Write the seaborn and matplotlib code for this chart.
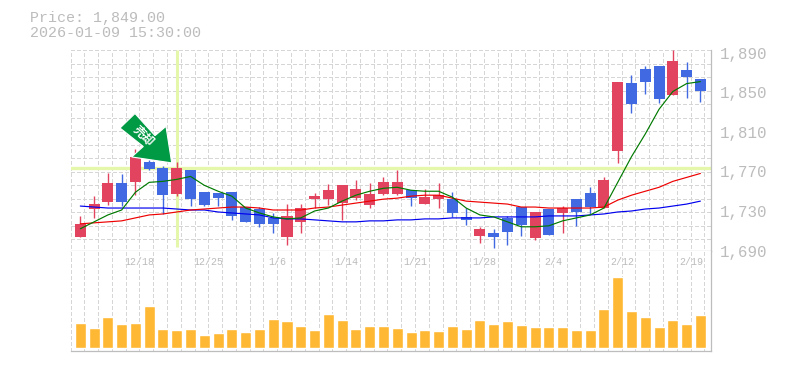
import numpy as np
import pandas as pd
import matplotlib
matplotlib.use("Agg")
import matplotlib.pyplot as plt
from matplotlib.patches import Polygon
import seaborn as sns

highs = [1725,1745,1768,1767,1793,1782,1776,1780,1771,1749,1748,1749,1734,1734,1728,1737,1737,1748,1757,1756,1761,1758,1764,1771,1751,1752,1758,1749,1733,1714,1712,1725,1734,1729,1732,1735,1742,1754,1764,1861,1868,1877,1877,1893,1881,1864]
tops  = [1717,1737,1758,1758,1785,1780,1774,1774,1771,1749,1748,1749,1734,1732,1723,1725,1733,1745,1751,1756,1752,1747,1759,1759,1751,1744,1746,1742,1724,1712,1708,1723,1734,1729,1732,1733,1742,1748,1761,1861,1860,1874,1877,1882,1873,1864]
bots  = [1704,1732,1739,1739,1759,1773,1746,1747,1742,1736,1743,1725,1719,1717,1717,1704,1719,1742,1742,1738,1743,1736,1747,1747,1743,1737,1742,1728,1721,1705,1704,1709,1716,1703,1706,1728,1729,1734,1733,1791,1838,1861,1843,1847,1866,1851]
lows  = [1704,1723,1736,1735,1746,1771,1727,1745,1735,1735,1735,1721,1719,1714,1708,1696,1708,1733,1736,1721,1741,1733,1746,1746,1735,1737,1733,1724,1716,1698,1693,1696,1705,1701,1706,1708,1715,1727,1733,1779,1829,1848,1839,1847,1844,1840]
is_up = [1,1,1,0,1,0,0,1,0,0,0,0,0,0,0,1,1,1,1,1,1,1,1,1,0,1,1,0,0,1,0,0,0,1,0,1,0,0,1,1,0,0,0,1,0,0]
ma_short = [1712,1719,1726,1731,1749,1759,1760,1762,1765,1756,1750,1745,1733,1728,1724,1722,1723,1730,1733,1740,1746,1750,1753,1754,1751,1750,1750,1744,1733,1726,1724,1719,1714,1714,1715,1720,1723,1726,1733,1759,1785,1808,1833,1851,1859,1861]
ma_mid = [1717,1718,1719,1720,1723,1726,1727,1729,1731,1732,1733,1734,1734,1733,1731,1731,1731,1733,1734,1736,1738,1740,1742,1743,1745,1746,1746,1743,1740,1739,1738,1737,1734,1734,1733,1733,1733,1733,1734,1741,1746,1750,1754,1760,1764,1768]
ma_long = [1735,1734,1733,1733,1733,1733,1733,1732,1731,1731,1729,1728,1727,1726,1723,1722,1722,1721,1720,1719,1719,1720,1720,1721,1721,1722,1722,1723,1723,1723,1724,1724,1724,1724,1725,1725,1725,1726,1727,1729,1730,1732,1733,1735,1737,1740]
volumes = [25,20,31,24,25,42,19,18,19,13,15,19,16,19,29,27,22,18,34,28,19,22,22,20,16,18,17,22,19,28,24,27,23,21,21,21,18,18,39,71,37,31,21,28,24,33]
y_ticks = [1690,1730,1770,1810,1850,1890]
x_tick_pos = [4,9,14,19,24,29,34,39,44]
x_tick_labels = ["12/18","12/25","1/6","1/14","1/21","1/28","2/4","2/12","2/19"]
title_lines = ["Price: 1,849.00","2026-01-09 15:30:00"]
arrow_label = "売却"
mark_index = 7
mark_price = 1774

sns.set_theme(style="white")
plt.rcParams["font.family"] = ["Liberation Mono", "DejaVu Sans Mono", "Noto Sans CJK JP"]

W, H = 785, 370
fig = plt.figure(figsize=(W/100, H/100), dpi=100, facecolor="white")
L, R = 70.5, 710.5
def axes_px(top, bottom):
    return fig.add_axes([L/W, 1-bottom/H, (R-L)/W, (bottom-top)/H])
ax = axes_px(50, 250.5)
av = axes_px(250.5, 350.5)

x = np.arange(len(highs))
dx = 13.78
xlim = ((L-80.3)/dx, (R-80.3)/dx)
GRID = "#d6d6d6"; FRAME = "#bdbdbd"; TXT = "#bcbcbc"
RED = "#e2445f"; BLUE = "#4169e1"; HL = "#e4f7ab"

grid_x = np.arange(xlim[0], xlim[1], 1.0)
ax.set_xlim(xlim); ax.set_ylim(1692.5, 1893)
av.set_xlim(xlim); av.set_ylim(-2.3, 98)

grid_kw = dict(color=GRID, lw=0.75, ls=(0, (3, 2)), zorder=1, antialiased=False)
ax.vlines(grid_x, 1692.5, 1893, **grid_kw)
ax.hlines(1893-13.7*np.arange(0, 15), *xlim, **grid_kw)
av.vlines(grid_x, -2.3, 98, **grid_kw)

ax.axhline(mark_price, color=HL, lw=2.4, zorder=2)
ax.vlines(mark_index, 1694, 1893, color=HL, lw=2.2, zorder=2)

df = pd.DataFrame(dict(x=x, high=highs, top=tops, bot=bots, low=lows, up=is_up, s=ma_short, m=ma_mid, l=ma_long, v=volumes))
cols = [RED if u else BLUE for u in df.up]
ax.vlines(df.x, df.low, df.high, colors=cols, lw=1.0, zorder=3)
ax.bar(df.x, df.top-df.bot, bottom=df.bot, width=0.8, color=cols, lw=0, zorder=4)
for col, c in (("l", "#0000ee"), ("m", "#ee0000"), ("s", "#007a00")):
    sns.lineplot(data=df, x="x", y=col, color=c, lw=0.85, ax=ax, zorder=5, errorbar=None)

sns.barplot(data=df, x="x", y="v", native_scale=True, color="#ffb833", saturation=1, width=0.8, ax=av, zorder=3)

def pt(px, py):
    return ((px-80.3)/dx, 1943-py)
poly = Polygon([pt(*p) for p in [(171.7,164.3),(131.7,158.3),(143.3,147.7),(120,129),(135,114.3),(155,136.7),(166,127.3)]],
               closed=True, facecolor="#009944", edgecolor="white", lw=0.8, zorder=6)
ax.add_patch(poly)
ax.text(*pt(143,137), arrow_label, rotation=-45, rotation_mode="anchor", color="white",
        ha="center", va="center", fontsize=8.5, fontweight="bold", zorder=7,
        family=["Noto Sans CJK JP"])

for a in (ax, av):
    for s in a.spines.values():
        s.set_visible(False)
    a.set_xlabel(""); a.set_ylabel("")
    a.tick_params(length=0)
    for side in ("right", "bottom"):
        a.spines[side].set_visible(True)
        a.spines[side].set_color(FRAME)
        a.spines[side].set_linewidth(0.9)
    a.set_xlim(xlim)

ax.yaxis.tick_right()
ax.set_yticks(y_ticks)
ax.set_yticklabels([f"{v:,}" for v in y_ticks], color=TXT, fontsize=11.3)
ax.tick_params(axis="y", pad=7)
ax.set_xticks([])
ax.get_yticklabels()[0].set_clip_on(False)
av.set_yticks([])
av.set_xticks([p + 0.31 for p in x_tick_pos])
av.set_xticklabels(x_tick_labels, color=TXT, fontsize=7.2)
av.xaxis.tick_top()
av.tick_params(axis="x", pad=-12)

fig.text(30/W, 1-18/H, title_lines[0], color=TXT, fontsize=10.8, va="center", ha="left")
fig.text(30/W, 1-33/H, title_lines[1], color=TXT, fontsize=10.8, va="center", ha="left")

fig.savefig("out.png", dpi=100, facecolor="white")
